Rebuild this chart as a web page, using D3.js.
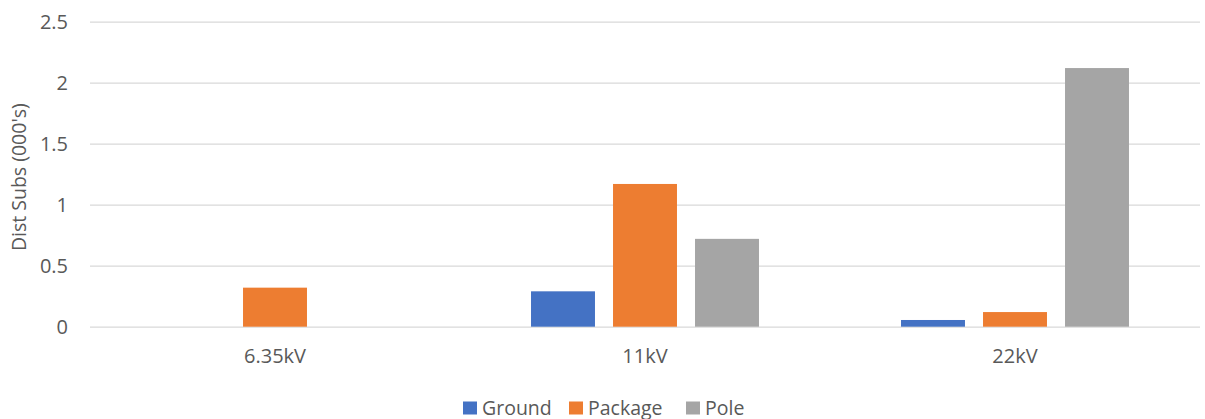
<!DOCTYPE html>
<html>
<head>
<meta charset="utf-8">
<script src="https://cdn.jsdelivr.net/npm/d3@7"></script>
<style>
  html, body { margin: 0; padding: 0; background: #fff; }
  svg text { font-family: "Open Sans", "Noto Sans", sans-serif; fill: #595959; }
</style>
</head>
<body>
<svg id="chart" width="1205" height="419"></svg>
<script>
// Distribution substations by voltage and type (thousands)
const categories = ["6.35kV", "11kV", "22kV"];
const seriesNames = ["Ground", "Package", "Pole"];
const ground  = [0,    0.29, 0.055];
const packageVals = [0.32, 1.17, 0.12];
const pole    = [0,    0.72, 2.12];
const yTicks  = [0, 0.5, 1, 1.5, 2, 2.5];
const colors  = ["#4472C4", "#ED7D31", "#A5A5A5"];

const seriesValues = [ground, packageVals, pole];
const rows = categories.map((c, i) => ({
  category: c,
  values: seriesNames.map((s, j) => ({ key: s, value: seriesValues[j][i] }))
}));

const svg = d3.select("#chart");
const plot = { left: 90, right: 1200, top: 21.7, bottom: 326.7 };

const y = d3.scaleLinear().domain([0, 2.5]).range([plot.bottom, plot.top]);
const x0 = d3.scaleBand().domain(categories).range([plot.left, plot.right]).padding(0);
const x1 = d3.scaleBand().domain(seriesNames).range([0, x0.bandwidth()])
  .paddingInner(0.22).paddingOuter(0.866);
const color = d3.scaleOrdinal().domain(seriesNames).range(colors);

// Horizontal gridlines with tick labels
const yAxis = svg.append("g")
  .attr("transform", `translate(${plot.left},0)`)
  .call(d3.axisLeft(y).tickValues(yTicks).tickFormat(d3.format("~g"))
    .tickSize(-(plot.right - plot.left)).tickPadding(22));
yAxis.select(".domain").remove();
yAxis.selectAll(".tick line").attr("stroke", "#D9D9D9").attr("stroke-width", 1.3);
yAxis.selectAll(".tick text").attr("font-size", 20).attr("fill", "#595959");

// Bars
const groups = svg.append("g").selectAll("g")
  .data(rows).join("g")
  .attr("transform", d => `translate(${x0(d.category)},0)`);
groups.selectAll("rect")
  .data(d => d.values).join("rect")
  .attr("x", d => x1(d.key))
  .attr("width", x1.bandwidth())
  .attr("y", d => y(d.value))
  .attr("height", d => y(0) - y(d.value))
  .attr("fill", d => color(d.key));

// Category axis
const xAxis = svg.append("g")
  .attr("transform", `translate(0,${plot.bottom})`)
  .call(d3.axisBottom(x0).tickSize(0).tickPadding(22));
xAxis.select(".domain").remove();
xAxis.selectAll(".tick text").attr("font-size", 20).attr("fill", "#595959");

// Y axis title
svg.append("text")
  .attr("transform", `translate(26,${(plot.top + plot.bottom) / 2 + 3}) rotate(-90)`)
  .attr("text-anchor", "middle")
  .attr("font-size", 19.5)
  .text("Dist Subs (000's)");

// Legend
const legendX = [463, 569, 686];
const legend = svg.append("g").selectAll("g")
  .data(seriesNames).join("g")
  .attr("transform", (d, i) => `translate(${legendX[i]},401.5)`);
legend.append("rect")
  .attr("width", 14).attr("height", 13)
  .attr("fill", d => color(d));
legend.append("text")
  .attr("x", 19).attr("y", 13)
  .attr("font-size", 19.5)
  .text(d => d);
</script>
</body>
</html>
